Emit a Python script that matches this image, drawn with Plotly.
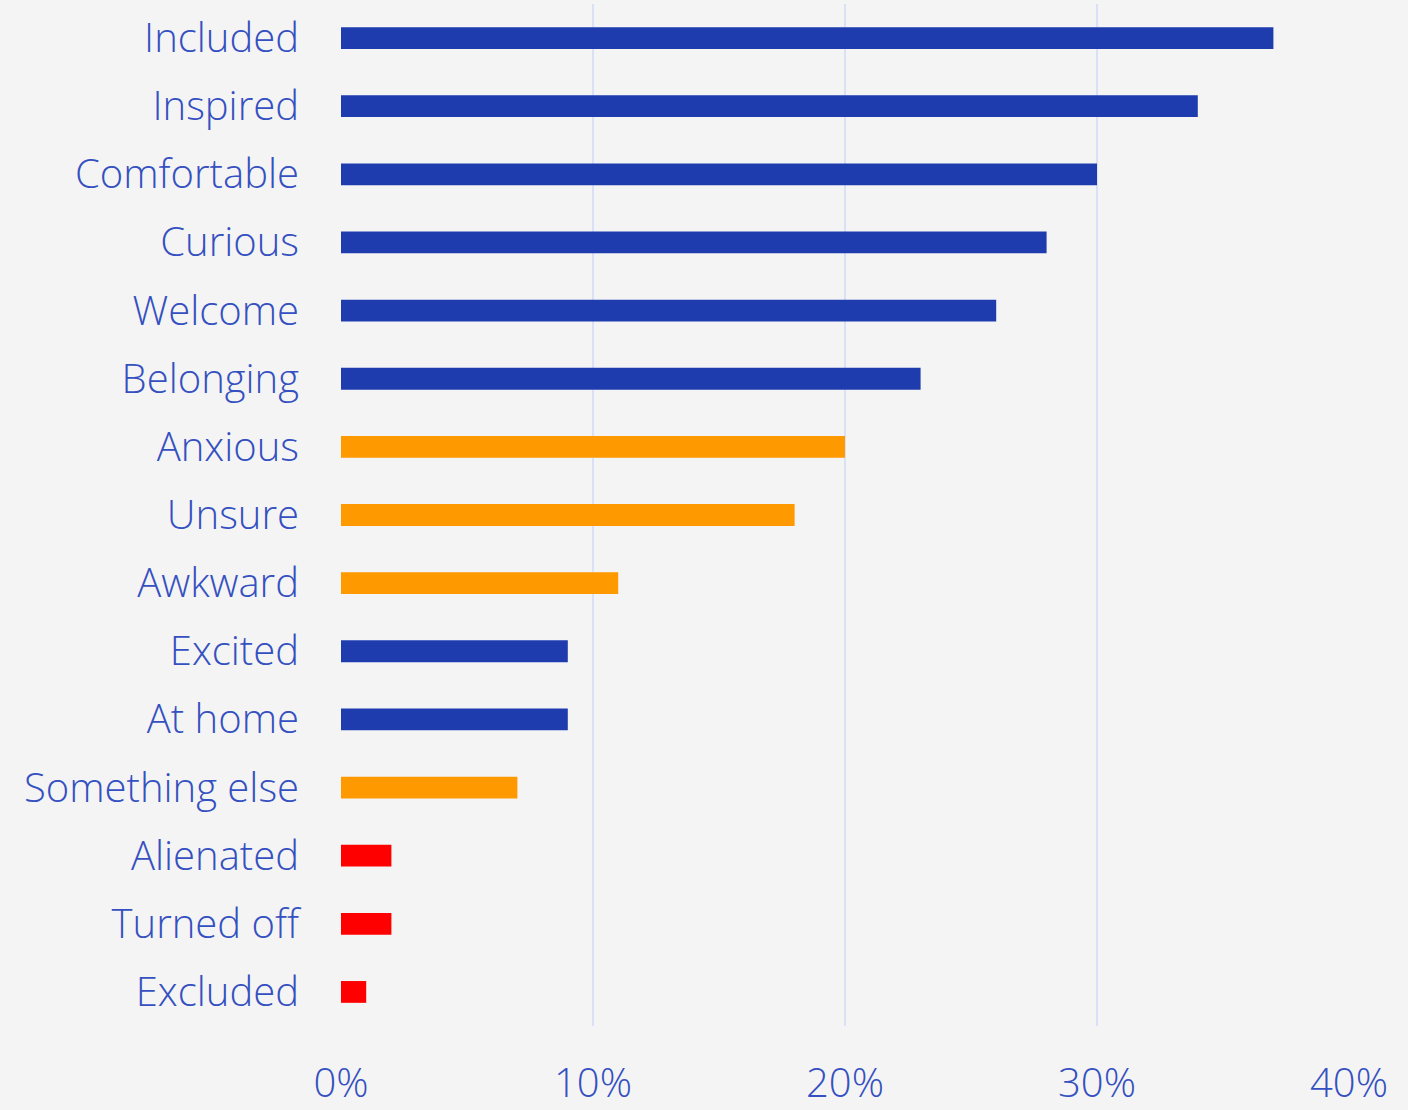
import plotly.graph_objects as go

categories = ["Included", "Inspired", "Comfortable", "Curious", "Welcome", "Belonging",
              "Anxious", "Unsure", "Awkward", "Excited", "At home", "Something else",
              "Alienated", "Turned off", "Excluded"]
values = [37, 34, 30, 28, 26, 23, 20, 18, 11, 9, 9, 7, 2, 2, 1]
groups = ["pos", "pos", "pos", "pos", "pos", "pos", "mid", "mid", "mid", "pos", "pos", "mid",
          "neg", "neg", "neg"]
x_ticks = [0, 10, 20, 30, 40]
x_tick_labels = ["0%", "10%", "20%", "30%", "40%"]

palette = {"pos": "#1f3caf", "mid": "#ff9900", "neg": "#ff0000"}
colors = [palette[g] for g in groups]

fig = go.Figure(go.Bar(
    y=categories, x=values, orientation="h",
    marker=dict(color=colors, line=dict(width=0)),
    width=0.32,
))

font_color = "#3550c0"
FONT = "Open Sans"
SIZE = 40
fig.update_layout(
    width=1408, height=1110,
    paper_bgcolor="#f4f4f4", plot_bgcolor="#f4f4f4",
    margin=dict(l=341, r=59, t=4, b=84),
    showlegend=False,
    font=dict(family=FONT, size=SIZE, color=font_color, weight=300),
)
fig.update_xaxes(
    range=[0, 40], tickvals=x_ticks, ticktext=x_tick_labels,
    showgrid=True, gridcolor="#d9e1f7", gridwidth=2,
    zeroline=False, showline=False, automargin=False,
    ticks="outside", ticklen=22, tickcolor="rgba(0,0,0,0)",
    tickfont=dict(size=SIZE, color=font_color, family=FONT, weight=300),
)
fig.update_yaxes(
    categoryorder="array", categoryarray=categories[::-1],
    showgrid=False, zeroline=False, showline=False, automargin=False,
    ticks="outside", ticklen=33, tickcolor="rgba(0,0,0,0)",
    tickfont=dict(size=SIZE, color=font_color, family=FONT, weight=300),
)

fig.write_html("out.html", config={"displayModeBar": False},
               post_script="document.body.style.margin='0';document.body.style.background='#f4f4f4';")
